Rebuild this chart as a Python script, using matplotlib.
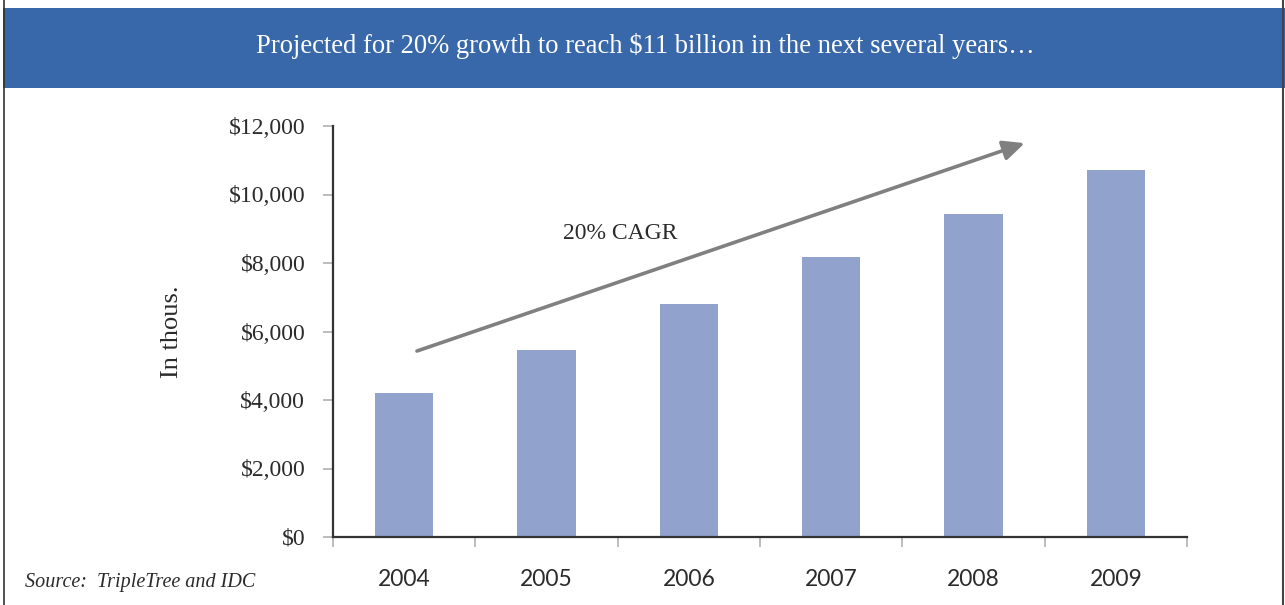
import matplotlib
matplotlib.use("Agg")
import matplotlib.pyplot as plt
from matplotlib.patches import Rectangle
from matplotlib.lines import Line2D
from matplotlib.ticker import FuncFormatter, FixedLocator

# Market size by year, in thousands of dollars
years = ["2004", "2005", "2006", "2007", "2008", "2009"]
revenue = [4200, 5460, 6800, 8180, 9430, 10720]
y_ticks = [0, 2000, 4000, 6000, 8000, 10000, 12000]

title = "Projected for 20% growth to reach $11 billion in the next several years\u2026"
cagr_label = "20% CAGR"
y_label = "In thous."
source = "Source:  TripleTree and IDC"

W, H = 1285, 605
fig = plt.figure(figsize=(W / 100, H / 100), dpi=100)
fig.patch.set_facecolor("white")

SERIF = "Liberation Serif"
BLUE = "#3868a9"
BAR = "#91a3cd"
DARK = "#2b2b2b"
TICK = "#bdbdbd"

def fx(px):
    return px / W

def fy(py):
    return 1 - py / H

# header band and page borders
fig.add_artist(Rectangle((fx(3), fy(88)), 1 - fx(3), fy(8) - fy(88),
                         transform=fig.transFigure, facecolor=BLUE,
                         edgecolor="none", zorder=0))
fig.text(fx(645), fy(46), title, color="white", fontsize=19.2, family=SERIF,
         ha="center", va="center")
fig.add_artist(Line2D([fx(3.5), fx(3.5)], [0, 1], transform=fig.transFigure,
                      color="#333333", lw=1.2))
fig.add_artist(Line2D([fx(1283), fx(1283)], [0, 1], transform=fig.transFigure,
                      color="#444444", lw=1.5))

# chart area
left, right, top, bottom = 333, 1187, 126, 537
ax = fig.add_axes([fx(left), fy(bottom), fx(right) - fx(left), fy(top) - fy(bottom)])
ax.set_facecolor("none")

x = list(range(len(years)))
ax.bar(x, revenue, width=0.41, color=BAR, zorder=2)

ax.set_xlim(-0.5, len(years) - 0.5)
ax.set_ylim(0, 12000)

for side in ("top", "right"):
    ax.spines[side].set_visible(False)
for side in ("left", "bottom"):
    ax.spines[side].set_color("#333333")
    ax.spines[side].set_linewidth(1.6)
    ax.spines[side].set_zorder(3)

ax.yaxis.set_major_locator(FixedLocator(y_ticks))
ax.yaxis.set_major_formatter(FuncFormatter(lambda v, p: f"${int(v):,}"))
ax.tick_params(axis="y", direction="out", length=7, width=1.4, color=TICK,
               pad=13, labelsize=17, labelcolor=DARK)
for lab in ax.get_yticklabels():
    lab.set_family(SERIF)

ax.set_xticks(x)
ax.set_xticklabels(years)
ax.set_xticks([i - 0.5 for i in range(len(years) + 1)], minor=True)
ax.tick_params(axis="x", which="major", length=0, pad=23, labelsize=16.5,
               labelcolor=DARK)
ax.tick_params(axis="x", which="minor", direction="out", length=7, width=1.4,
               color=TICK)
for lab in ax.get_xticklabels():
    lab.set_family("Lato")

ax.set_ylabel(y_label, family=SERIF, fontsize=19, color=DARK, labelpad=33)

# growth trend arrow
ax.annotate("", xy=(4.36, 11500), xytext=(0.09, 5430),
            arrowprops=dict(arrowstyle="-|>,head_length=1.3,head_width=0.6",
                            color="#808080", lw=2.6, shrinkA=0, shrinkB=0),
            zorder=4)
ax.text(1.52, 8870, cagr_label, family=SERIF, fontsize=17, color=DARK,
        ha="center", va="center")

fig.text(fx(25), fy(583), source, family=SERIF, style="italic", fontsize=14.5,
         color=DARK, ha="left", va="center")

fig.savefig("out.png", dpi=100)
